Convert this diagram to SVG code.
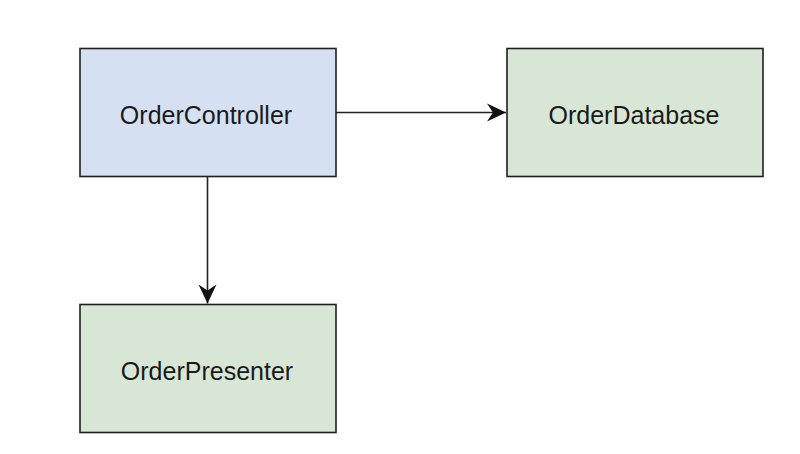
<svg xmlns="http://www.w3.org/2000/svg" width="800" height="454" viewBox="0 0 800 454">
<style>
.box{stroke:#1f1f1f;stroke-width:1.6}
.blue{fill:#d5e0f3}
.green{fill:#d8e7d5}
.lbl{font-family:"Liberation Sans",Arial,sans-serif;font-size:25px;fill:#1a1a1a;text-anchor:middle}
.edge{stroke:#222;stroke-width:1.6;fill:none}
</style>
<defs>
<marker id="arr" markerUnits="userSpaceOnUse" markerWidth="22" markerHeight="22" viewBox="0 0 22 22" refX="20" refY="11" orient="auto">
<path d="M1,2 L20,11 L1,20 L7,11 Z" fill="#111"/>
</marker>
</defs>
<rect width="800" height="454" fill="#fff"/>
<g id="connectors">
<path class="edge" d="M336,112.5 H506" marker-end="url(#arr)"/>
<path class="edge" d="M207.5,176.5 V303.5" marker-end="url(#arr)"/>
</g>
<g id="OrderController">
<rect class="box blue" x="80" y="48.5" width="256" height="128"/>
<text class="lbl" x="206" y="123.5">OrderController</text>
</g>
<g id="OrderDatabase">
<rect class="box green" x="507" y="48.5" width="256" height="128"/>
<text class="lbl" x="634" y="123.5">OrderDatabase</text>
</g>
<g id="OrderPresenter">
<rect class="box green" x="80" y="304.5" width="256" height="128"/>
<text class="lbl" x="207" y="379.5">OrderPresenter</text>
</g>
</svg>
